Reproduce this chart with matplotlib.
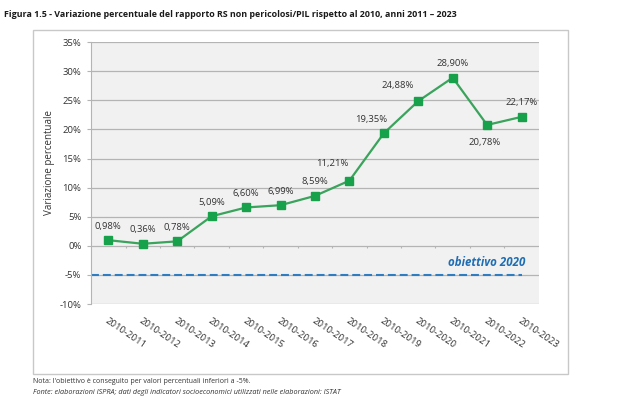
import numpy as np
import matplotlib.pyplot as plt
from matplotlib.patches import Rectangle

periods = ["2010-2011", "2010-2012", "2010-2013", "2010-2014", "2010-2015", "2010-2016",
           "2010-2017", "2010-2018", "2010-2019", "2010-2020", "2010-2021", "2010-2022", "2010-2023"]
variazione = [0.98, 0.36, 0.78, 5.09, 6.60, 6.99, 8.59, 11.21, 19.35, 24.88, 28.90, 20.78, 22.17]
obiettivo = -5
y_ticks = [-10, -5, 0, 5, 10, 15, 20, 25, 30, 35]

# spostamento delle etichette (punti)
label_offsets = [(0, 10)] * 7 + [(-12, 12), (-9, 10), (-15, 11.5), (0, 10), (-2, -13), (0, 10)]

plt.rcParams['font.family'] = ['Open Sans', 'DejaVu Sans']

fig = plt.figure(figsize=(6.2, 3.98), dpi=100)
fig.patch.set_facecolor("white")

# cornice esterna
fig.patches.append(Rectangle((0.053, 0.060), 0.863, 0.864, transform=fig.transFigure,
                             fill=False, edgecolor="#c8c8c8", linewidth=1.0))

ax = fig.add_axes([0.147, 0.236, 0.722, 0.658])
ax.set_facecolor("#f1f1f1")
x = np.arange(len(periods))

for yv in y_ticks:
    ax.axhline(yv, color="#b4b4b4", linewidth=0.9, zorder=1)

# tacche dell'asse delle categorie sullo 0
ax.vlines(np.arange(len(periods) - 1) + 0.5, -0.45, 0, color="#b4b4b4", linewidth=0.8, zorder=1)

ax.plot([-0.5, len(periods) - 1], [obiettivo, obiettivo], color="#2f7cc0", linewidth=1.5,
        dashes=(3.8, 1.9), zorder=2)
ax.text(len(periods) - 2.0, -2.8, "obiettivo 2020", color="#1f6db3", fontsize=8.3,
        fontweight="bold", fontstyle="italic", ha="center", va="center")

ax.plot(x, variazione, color="#3aa35c", linewidth=1.6, marker="s", markersize=6,
        markerfacecolor="#17a14a", markeredgecolor="#17a14a", zorder=3)

for xi, v, off in zip(x, variazione, label_offsets):
    txt = f"{v:.2f}%".replace(".", ",")
    ax.annotate(txt, (xi, v), xytext=off, textcoords="offset points",
                ha="center", va="center", fontsize=6.8, color="#333333")

ax.set_xlim(-0.5, len(periods) - 0.5)
ax.set_ylim(-10, 35)
ax.set_yticks(y_ticks)
ax.set_yticklabels([f"{t}%" for t in y_ticks], fontsize=6.8, color="#333333")
ax.set_xticks(x)
ax.set_xticklabels(periods, rotation=-34, ha="left", rotation_mode="anchor",
                   fontsize=6.8, color="#333333")
ax.tick_params(axis="x", length=0, pad=9)
ax.tick_params(axis="y", length=3, color="#b4b4b4", pad=4)
for s in ["top", "right", "bottom"]:
    ax.spines[s].set_visible(False)
ax.spines["left"].set_color("#b4b4b4")
ax.set_ylabel("Variazione percentuale", fontsize=7, color="#333333")
ax.yaxis.set_label_coords(-0.08, 0.54)

fig.text(0.006, 0.964, "Figura 1.5 - Variazione percentuale del rapporto RS non pericolosi/PIL rispetto al 2010, anni 2011 \u2013 2023",
         fontsize=6.4, fontweight="bold", color="#1a1a1a", va="center")
fig.text(0.053, 0.042, "Nota: l'obiettivo è conseguito per valori percentuali inferiori a -5%.",
         fontsize=5, color="#333333", va="center")
fig.text(0.053, 0.015, "Fonte: elaborazioni ISPRA; dati degli indicatori socioeconomici utilizzati nelle elaborazioni: ISTAT",
         fontsize=5.2, fontstyle="italic", color="#333333", va="center")

fig.savefig("out.png", dpi=100)
